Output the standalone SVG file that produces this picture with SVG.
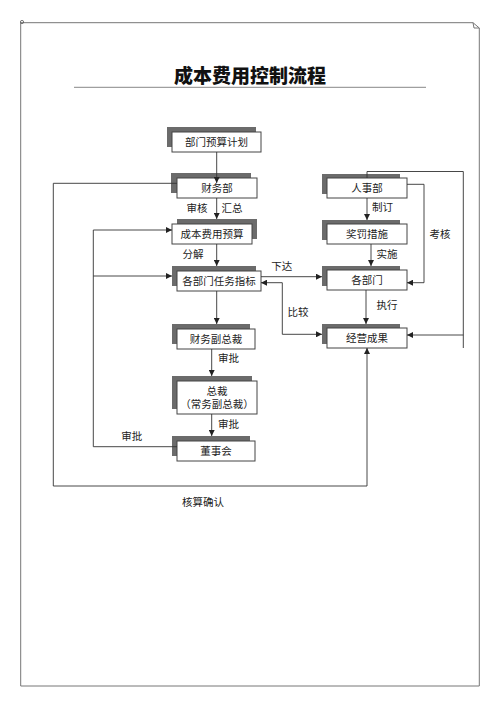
<svg xmlns="http://www.w3.org/2000/svg" width="500" height="708" viewBox="0 0 500 708">
<style>
text{font-family:"Liberation Serif","Noto Sans CJK SC",serif;fill:#222;}
.t{font-size:10.5px;text-anchor:middle;dominant-baseline:central;}
.lb{font-size:10.5px;text-anchor:middle;dominant-baseline:central;}
.title{font-family:"Noto Sans CJK SC",sans-serif;font-size:19px;font-weight:900;text-anchor:middle;fill:#111;}
.sh{fill:#6b6b6b;}
.bx{fill:#fff;stroke:#444;stroke-width:1;}
.c{fill:none;stroke:#333;stroke-width:0.9;}
.a{fill:none;stroke:#333;stroke-width:0.9;marker-end:url(#ar);}
.pg{fill:none;stroke:#777;stroke-width:1;}
</style>
<defs>
<marker id="ar" viewBox="0 0 8 8" refX="8" refY="4" markerWidth="6" markerHeight="6" markerUnits="userSpaceOnUse" orient="auto">
<path d="M0,0 L8,4 L0,8 Z" fill="#222"/>
</marker>
</defs>
<rect width="500" height="708" fill="#fff"/>
<g id="page">
<path class="pg" d="M20.7,22.7 H473 L479.3,28 V686 H20.7 Z"/>
<path class="pg" d="M473,22.7 L474,28 L479.3,28"/>
<circle cx="22" cy="22" r="1.6" fill="none" stroke="#555" stroke-width="0.8"/>
</g>
<g id="title">
<text class="title" x="250" y="83">成本费用控制流程</text>
<line x1="74" y1="87.3" x2="426" y2="87.3" stroke="#888" stroke-width="1"/>
</g>
<g id="n1"><rect class="sh" x="167" y="127" width="89" height="20"/><rect class="bx" x="172" y="132" width="89" height="20"/><text class="t" x="216.5" y="142">部门预算计划</text></g>
<g id="n2"><rect class="sh" x="171" y="173" width="80" height="20"/><rect class="bx" x="177" y="178" width="80" height="20"/><text class="t" x="217" y="188">财务部</text></g>
<g id="n3"><rect class="sh" x="177" y="219" width="80" height="20"/><rect class="bx" x="172" y="224" width="80" height="20"/><text class="t" x="212" y="234">成本费用预算</text></g>
<g id="n4"><rect class="sh" x="172" y="266" width="84" height="20"/><rect class="bx" x="177" y="271" width="84" height="20"/><text class="t" x="219" y="281">各部门任务指标</text></g>
<g id="n5"><rect class="sh" x="172" y="324" width="78" height="20"/><rect class="bx" x="177" y="329" width="78" height="20"/><text class="t" x="216" y="339">财务副总裁</text></g>
<g id="n6"><rect class="sh" x="172" y="376" width="80" height="33"/><rect class="bx" x="177" y="381" width="80" height="33"/><text class="t" x="217" y="391">总裁</text><text class="t" x="217" y="404.5">（常务副总裁）</text></g>
<g id="n7"><rect class="sh" x="172" y="436" width="78" height="20"/><rect class="bx" x="177" y="441" width="78" height="20"/><text class="t" x="216" y="451">董事会</text></g>
<g id="n8"><rect class="sh" x="322" y="174" width="78" height="20"/><rect class="bx" x="327" y="178" width="80" height="20"/><text class="t" x="367" y="188">人事部</text></g>
<g id="n9"><rect class="sh" x="322" y="220" width="78" height="20"/><rect class="bx" x="327" y="224" width="80" height="20"/><text class="t" x="367" y="234">奖罚措施</text></g>
<g id="n10"><rect class="sh" x="322" y="266" width="78" height="20"/><rect class="bx" x="327" y="270" width="80" height="20"/><text class="t" x="367" y="280">各部门</text></g>
<g id="n11"><rect class="sh" x="322" y="324" width="78" height="20"/><rect class="bx" x="327" y="328" width="80" height="20"/><text class="t" x="367" y="338">经营成果</text></g>
<g id="connectors">
<path class="a" d="M216.7,152 V183"/>
<path class="a" d="M216.7,198 V219"/>
<path class="a" d="M216.7,244 V266"/>
<path class="a" d="M216.7,291 V324"/>
<path class="a" d="M211.7,349 V376"/>
<path class="a" d="M211.7,414 V436"/>
<path class="a" d="M177,183.3 H53.3 V486 H367 V348"/>
<path class="a" d="M177,446.7 H93.3 V230 H172"/>
<path class="a" d="M93.3,276 H172"/>
<path class="a" d="M261,276.7 H322"/>
<path class="a" d="M282.3,282.7 H261"/>
<path class="a" d="M282.3,282.7 V334.3 H322"/>
<path class="c" d="M367,178 V171.5 H463.3 V348"/>
<path class="a" d="M367,198 V220"/>
<path class="a" d="M463.3,335 H407"/>
<path class="a" d="M407,184.3 H424 V282.7 H407"/>
<path class="a" d="M371,244 V266"/>
<path class="a" d="M366,290 V324"/>
</g>
<g id="labels">
<text class="lb" x="197" y="208">审核</text>
<text class="lb" x="232" y="208">汇总</text>
<text class="lb" x="193" y="254">分解</text>
<text class="lb" x="281.7" y="266.7">下达</text>
<text class="lb" x="298" y="312.7">比较</text>
<text class="lb" x="382.5" y="207.7">制订</text>
<text class="lb" x="387" y="254.3">实施</text>
<text class="lb" x="440" y="234">考核</text>
<text class="lb" x="387" y="305.7">执行</text>
<text class="lb" x="228.5" y="358.3">审批</text>
<text class="lb" x="228.5" y="424">审批</text>
<text class="lb" x="131.7" y="436.7">审批</text>
<text class="lb" x="203" y="502.7">核算确认</text>
</g>
</svg>
